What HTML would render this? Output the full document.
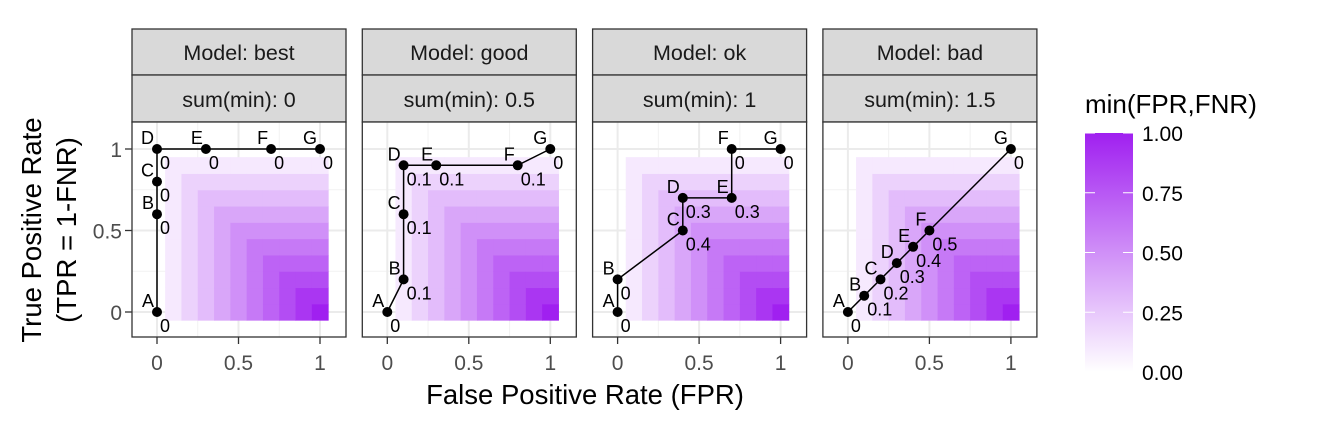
<!DOCTYPE html>
<html><head><meta charset="utf-8"><style>
body{margin:0;background:#fff;}
svg{display:block;font-family:"Liberation Sans",Arial,sans-serif;}
</style></head><body>
<svg id="chart" width="1320" height="440" xmlns="http://www.w3.org/2000/svg">
<defs><linearGradient id="cb" x1="0" y1="1" x2="0" y2="0"><stop offset="0" stop-color="#ffffff"/><stop offset="1" stop-color="#A020F0"/></linearGradient></defs>
<g id="panels"></g>
<text x="585" y="404" font-size="27.5" text-anchor="middle" fill="#000">False Positive Rate (FPR)</text>
<text transform="translate(41,230) rotate(-90)" font-size="27.5" text-anchor="middle" fill="#000">True Positive Rate</text>
<text transform="translate(76,230) rotate(-90)" font-size="27.5" text-anchor="middle" fill="#000">(TPR = 1-FNR)</text>
<g>
<text x="1085" y="113" font-size="26" fill="#000">min(FPR,FNR)</text>
<rect x="1085" y="133" width="48" height="239" fill="url(#cb)"/>
<g id="cbticks"></g>
</g>
</svg>
<script>
const models = ["best","good","ok","bad"];
const sums = ["0","0.5","1","1.5"];
const letters = ["A","B","C","D","E","F","G"];
const fprs = [[0,0,0,0,0.3,0.7,1],[0,0.1,0.1,0.1,0.3,0.8,1],[0,0,0.4,0.4,0.7,0.7,1],[0,0.1,0.2,0.3,0.4,0.5,1]];
const tprs = [[0,0.6,0.8,1,1,1,1],[0,0.2,0.6,0.9,0.9,0.9,1],[0,0.2,0.5,0.7,0.7,1,1],[0,0.1,0.2,0.3,0.4,0.5,1]];
const mins = [["0","0","0","0","0","0","0"],["0","0.1","0.1","0.1","0.1","0.1","0"],["0","0","0.4","0.3","0.3","0","0"],["0","0.1","0.2","0.3","0.4","0.5","0"]];
const ticks = [0,0.5,1];
const tickLabels = ["0","0.5","1"];
const legendVals = [0,0.25,0.5,0.75,1];
const legendLabels = ["0.00","0.25","0.50","0.75","1.00"];

const NS="http://www.w3.org/2000/svg";
function mk(tag,attrs,parent){const e=document.createElementNS(NS,tag);for(const k in attrs)e.setAttribute(k,attrs[k]);parent.appendChild(e);return e;}
function col(v){const r=Math.round(255+(160-255)*v),g=Math.round(255+(32-255)*v),b=Math.round(255+(240-255)*v);return `rgb(${r},${g},${b})`;}
const root=document.getElementById('panels');
const PT=122,PB=337,PW=214,stripTop=29;
for(let p=0;p<4;p++){
  const L=132+p*230.3;
  const sx=v=>L+25+v*163;
  const sy=v=>312-v*163;
  const g=mk('g',{},root);
  
  
  const s1=mk('rect',{x:L,y:stripTop,width:PW,height:46,fill:'#D9D9D9',stroke:'#333',"stroke-width":1.3},g);
  
  
  const t1=mk('text',{x:L+PW/2,y:60,"font-size":21.5,"text-anchor":"middle",fill:'#1A1A1A'},g);t1.textContent='Model: '+models[p];
  
  
  const s2=mk('rect',{x:L,y:75,width:PW,height:47,fill:'#D9D9D9',stroke:'#333',"stroke-width":1.3},g);
  
  
  const t2=mk('text',{x:L+PW/2,y:107,"font-size":21.5,"text-anchor":"middle",fill:'#1A1A1A'},g);t2.textContent='sum(min): '+sums[p];
  
  
  mk('rect',{x:L,y:PT,width:PW,height:PB-PT,fill:'#fff'},g);
  [0.25,0.75].forEach(v=>{mk('line',{x1:sx(v),x2:sx(v),y1:PT,y2:PB,stroke:'#F2F2F2',"stroke-width":1},g);mk('line',{y1:sy(v),y2:sy(v),x1:L,x2:L+PW,stroke:'#F2F2F2',"stroke-width":1},g);});
  ticks.forEach(v=>{mk('line',{x1:sx(v),x2:sx(v),y1:PT,y2:PB,stroke:'#EBEBEB',"stroke-width":2},g);mk('line',{y1:sy(v),y2:sy(v),x1:L,x2:L+PW,stroke:'#EBEBEB',"stroke-width":2},g);});
  for(let i=1;i<=10;i++)for(let j=0;j<=9;j++){
    const x=i/10,y=j/10,v=Math.min(x,1-y);
    const r=mk('rect',{x:sx(x-0.05),y:sy(y+0.05),width:sx(x+0.05)-sx(x-0.05)+0.5,height:sy(y-0.05)-sy(y+0.05)+0.5,fill:col(v)},g);
    
    
  }
  const pts=fprs[p].map((x,i)=>sx(x)+','+sy(tprs[p][i])).join(' ');
  const pl=mk('polyline',{points:pts,fill:'none',stroke:'#000',"stroke-width":1.5},g);
  
  
  fprs[p].forEach((x,i)=>{
    const cx=sx(x),cy=sy(tprs[p][i]);
    const c=mk('circle',{cx:cx,cy:cy,r:5,fill:'#000'},g);
    
    
    const tl=mk('text',{x:cx-3,y:cy-5,"font-size":18,"text-anchor":"end",fill:'#000'},g);tl.textContent=letters[i];
    
    
    const tv=mk('text',{x:cx+3,y:cy+20,"font-size":18,fill:'#000'},g);tv.textContent=mins[p][i];
    
    
  });
  mk('rect',{x:L,y:PT,width:PW,height:PB-PT,fill:'none',stroke:'#333',"stroke-width":1.3},g);
  ticks.forEach((v,i)=>{
    mk('line',{x1:sx(v),x2:sx(v),y1:PB,y2:PB+7,stroke:'#333',"stroke-width":1.3},g);
    const t=mk('text',{x:sx(v),y:370,"font-size":21,"text-anchor":"middle",fill:'#4D4D4D'},g);t.textContent=tickLabels[i];
    
    
    if(p===0){
      mk('line',{x1:L-7,x2:L,y1:sy(v),y2:sy(v),stroke:'#333',"stroke-width":1.3},g);
      const ty=mk('text',{x:L-10,y:sy(v)+8,"font-size":21,"text-anchor":"end",fill:'#4D4D4D'},g);ty.textContent=tickLabels[i];
      
      
    }
  });
}
const cbt=document.getElementById('cbticks');
legendVals.forEach((v,i)=>{
  const y=372-v*239;
  mk('line',{x1:1085,x2:1095,y1:y,y2:y,stroke:'#fff',"stroke-width":1},cbt);
  mk('line',{x1:1123,x2:1133,y1:y,y2:y,stroke:'#fff',"stroke-width":1},cbt);
  const t=mk('text',{x:1142,y:y+8,"font-size":21,fill:'#000'},cbt);t.textContent=legendLabels[i];
  
  
});
</script>
</body></html>
